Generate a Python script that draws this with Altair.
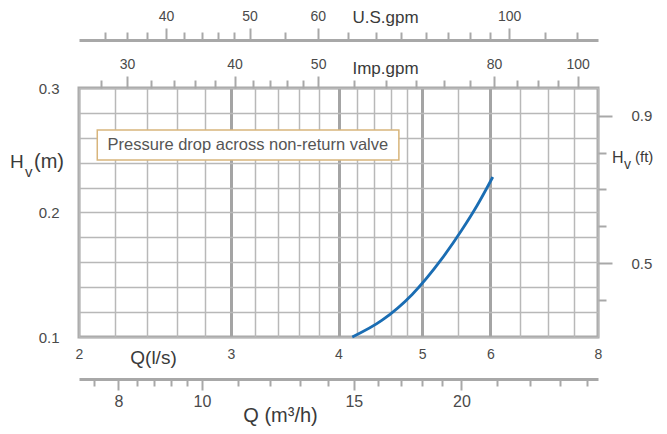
import altair as alt
import pandas as pd

# ---------------- data ----------------
# valve pressure-drop curve (Q in l/s, Hv in m)
q_ls = [4.15, 4.49, 4.87, 5.27, 5.56, 5.79, 6.04]
hv_m = [0.100, 0.1133, 0.1342, 0.1627, 0.1859, 0.2054, 0.2285]

q_domain = [2, 8]
h_domain = [0.1, 0.3]
ft_domain = [0.30, 0.975]

q_grid = [2, 2.2, 2.4, 2.6, 2.8, 3, 3.2, 3.4, 3.6, 3.8, 4, 4.2, 4.4, 4.6, 4.8,
          5, 5.5, 6, 6.5, 7, 7.5, 8]
q_labels = [2, 3, 4, 5, 6, 8]
q_major = [3, 4, 5, 6]

h_grid = [0.10, 0.12, 0.14, 0.16, 0.18, 0.20, 0.22, 0.24, 0.26, 0.28, 0.30]
h_labels = [0.1, 0.2, 0.3]

ft_ticks = [0.4, 0.5, 0.6, 0.7, 0.8, 0.9]
ft_labels = [0.5, 0.9]

us_ticks = [34, 36, 38, 40, 42, 44, 46, 48, 50, 55, 60, 65, 70, 75, 80, 85, 90,
            95, 100, 110, 120]
us_labels = [40, 50, 60, 100]

imp_ticks = [28, 30, 32, 34, 36, 38, 40, 42, 44, 46, 48, 50, 55, 60, 65, 70, 75,
             80, 85, 90, 95, 100]
imp_labels = [30, 40, 50, 80, 100]

m3h_ticks = [7.5, 8, 8.4, 8.8, 9.2, 9.6, 10, 11, 12, 13, 14, 15, 16, 17, 18, 19,
             20, 22, 24, 26, 28]
m3h_labels = [8, 10, 15, 20]

# unit conversions from l/s
US_GPM = 15.8503
IMP_GPM = 13.1982
M3H = 3.6

ann_text = ["Pressure drop across non-return valve"]
ann_box_q = [2.10, 4.70]
ann_box_h = [0.2422, 0.2663]
ann_text_q = [3.14]
ann_text_h = [0.2545]

left_title = ["H", "v", "(m)"]
right_title = ["H", "v", "(ft)"]

# ---------------- styles ----------------
FONT = "Liberation Sans"
GRID_C = "#b8b8b8"
GRID_MAJOR_C = "#a4a4a4"
AX_C = "#a8a8a8"
LBL_C = "#4a4a4a"
TITLE_C = "#3a3a3a"


def in_list(vals):
    return "indexof([" + ",".join(str(v) for v in vals) + "], datum.value) >= 0"


def show_only(vals):
    return f"{in_list(vals)} ? datum.label : ''"


def x_scale():
    return alt.Scale(type="log", domain=q_domain, nice=False)


def y_scale():
    return alt.Scale(type="linear", domain=h_domain, nice=False, zero=False)


x_axis = alt.Axis(
    orient="bottom", values=q_grid, format="~g", labelExpr=show_only(q_labels),
    grid=True,
    gridColor={"condition": {"test": in_list(q_major), "value": GRID_MAJOR_C}, "value": GRID_C},
    gridWidth={"condition": {"test": in_list(q_major), "value": 3}, "value": 1.5},
    ticks=False, domain=False, labelPadding=10, labelFontSize=14, labelColor=LBL_C,
    labelFont=FONT, labelFlush=False, labelOverlap=False, labelBound=False,
    title="Q(l/s)", titleFont=FONT, titleFontSize=19, titleFontWeight="normal",
    titleColor=TITLE_C, titleX=74, titleY=20, titleAlign="center",
    titleBaseline="middle", titleAngle=0,
)

y_axis = alt.Axis(
    orient="left", values=h_grid, format=".1f", labelExpr=show_only(h_labels),
    grid=True, gridColor=GRID_C, gridWidth=1.5, ticks=False, domain=False,
    labelPadding=20, labelFontSize=15, labelColor=LBL_C, labelFont=FONT,
    labelOverlap=False, labelFlush=False, labelBound=False, title="",
)

curve_df = pd.DataFrame({"q": q_ls, "h": hv_m})
curve = alt.Chart(curve_df).mark_line(
    color="#1a6db3", strokeWidth=2.8, interpolate="monotone"
).encode(
    x=alt.X("q:Q", scale=x_scale(), axis=x_axis),
    y=alt.Y("h:Q", scale=y_scale(), axis=y_axis),
)

box_df = pd.DataFrame({"q0": [ann_box_q[0]], "q1": [ann_box_q[1]],
                       "h0": [ann_box_h[0]], "h1": [ann_box_h[1]]})
box = alt.Chart(box_df).mark_rect(
    fill="white", stroke="#d8b57c", strokeWidth=1.5
).encode(
    x=alt.X("q0:Q", scale=x_scale(), axis=None), x2="q1:Q",
    y=alt.Y("h0:Q", scale=y_scale(), axis=None), y2="h1:Q",
)

text_df = pd.DataFrame({"q": ann_text_q, "h": ann_text_h, "t": ann_text})
text = alt.Chart(text_df).mark_text(
    font=FONT, fontSize=16.5, color="#555555", align="center", baseline="middle"
).encode(
    x=alt.X("q:Q", scale=x_scale(), axis=None),
    y=alt.Y("h:Q", scale=y_scale(), axis=None),
    text="t:N",
)


def aux_x(ticks, labels, factor, field, orient, offset, title, title_x, title_y,
          title_size, label_size, label_pad, tick_major, tick_minor, domain_line):
    df = pd.DataFrame({field: ticks})
    ax = alt.Axis(
        orient=orient, offset=offset, values=ticks, format="~g",
        labelExpr=show_only(labels), grid=False, domain=domain_line,
        domainColor=AX_C, domainWidth=3, tickColor=AX_C, tickWidth=2,
        tickSize={"condition": {"test": in_list(labels), "value": tick_major},
                  "value": tick_minor},
        labelPadding=label_pad, labelFontSize=label_size, labelColor=LBL_C,
        labelFont=FONT, labelFlush=False, labelOverlap=False, labelBound=False,
        title=title, titleFont=FONT, titleFontSize=title_size,
        titleFontWeight="normal", titleColor=TITLE_C, titleX=title_x,
        titleY=title_y, titleAlign="center", titleBaseline="middle", titleAngle=0,
    )
    return alt.Chart(df).mark_point(opacity=0).encode(
        x=alt.X(f"{field}:Q",
                scale=alt.Scale(type="log",
                                domain=[q_domain[0] * factor, q_domain[1] * factor],
                                nice=False),
                axis=ax),
        y=alt.value(0),
    )


us = aux_x(us_ticks, us_labels, US_GPM, "us", "top", 48, "U.S.gpm", 306, -23,
           17, 14, 5, 12, 8, True)
imp = aux_x(imp_ticks, imp_labels, IMP_GPM, "imp", "top", 0, "Imp.gpm", 306, -20,
            17, 14, 5, 12, 8, False)
m3h = aux_x(m3h_ticks, m3h_labels, M3H, "m3h", "bottom", 42, "Q (m³/h)", 201, 36,
            20, 16, 3, 11, 7, True)

ft_df = pd.DataFrame({"ft": ft_ticks})
ft = alt.Chart(ft_df).mark_point(opacity=0).encode(
    y=alt.Y("ft:Q", scale=alt.Scale(domain=ft_domain, nice=False, zero=False),
            axis=alt.Axis(
                orient="right", values=ft_ticks, format=".1f",
                labelExpr=show_only(ft_labels), grid=False, domain=False,
                tickColor=AX_C, tickWidth=2,
                tickSize={"condition": {"test": in_list(ft_labels), "value": 14},
                          "value": 8},
                labelPadding=19, labelFontSize=15, labelColor=LBL_C, labelFont=FONT,
                labelFlush=False, labelOverlap=False, labelBound=False, title="",
            )),
    x=alt.value(0),
)


def piece(s, x, y, size):
    return alt.Chart(pd.DataFrame({"t": [s]})).mark_text(
        font=FONT, fontSize=size, color=TITLE_C, align="left", baseline="alphabetic"
    ).encode(x=alt.value(x), y=alt.value(y), text="t:N")


title_marks = [
    piece(left_title[0], -69, 80, 19),
    piece(left_title[1], -54, 89, 15),
    piece(left_title[2], -45, 80, 20),
    piece(right_title[0], 533, 75, 16),
    piece(right_title[1], 545, 81, 14),
    piece(right_title[2], 556, 74, 15),
]

chart = alt.layer(curve, box, text, us, imp, m3h, ft, *title_marks).resolve_scale(
    x="independent", y="independent"
).properties(
    width=519, height=249,
    autosize=alt.AutoSizeParams(type="none"),
    padding={"left": 71, "top": 80, "right": 60, "bottom": 89},
).configure_view(stroke="#a9a9a9", strokeWidth=3)

chart.save("out.html", embed_options={"renderer": "svg", "actions": False})
